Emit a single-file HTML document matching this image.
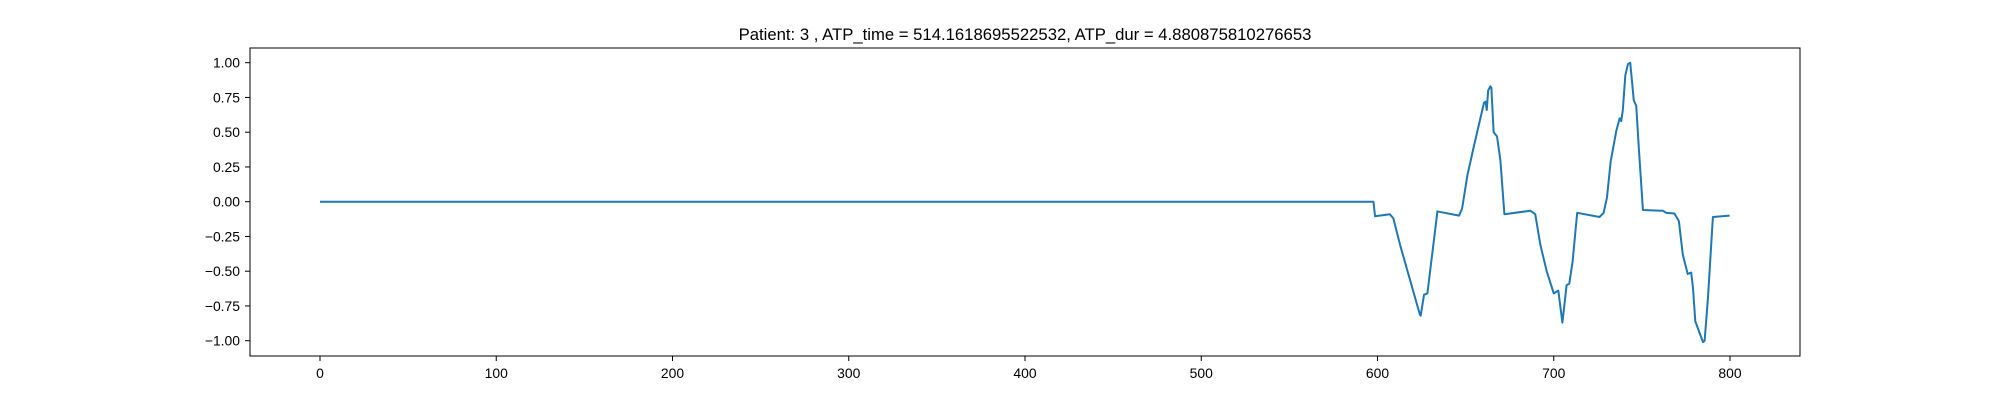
<!DOCTYPE html>
<html><head><meta charset="utf-8"><style>
body{margin:0;background:#fff}
svg{display:block;font-family:"Liberation Sans","DejaVu Sans",sans-serif}
</style></head><body>
<svg id="chart" width="2000" height="400" viewBox="0 0 2000 400" xmlns="http://www.w3.org/2000/svg">
<rect width="2000" height="400" fill="#fff"/>
<text x="1025" y="40" text-anchor="middle" font-size="16.7" fill="#000">Patient: 3 , ATP_time = 514.1618695522532, ATP_dur = 4.880875810276653</text>
<g id="ticks"></g>
<path id="line" fill="none" stroke="#1f77b4" stroke-width="2" stroke-linejoin="round"/>
<rect x="250" y="48" width="1550" height="308" fill="none" stroke="#000" stroke-width="1"/>
</svg>
<script>
const xs=[0,597.7,598.6,607,609,612.8,624,624.5,626.4,628.3,631.2,634,646.3,648,651,654.7,660.4,661.3,662,662.8,664,664.6,665.9,667.8,669.7,672,686.7,689.5,692.4,696,700,701.8,702.6,704.9,707.3,708.8,710.7,713.3,726,728.3,730.2,732.3,735.5,737.4,738.3,739.2,740.6,742.1,743.4,745.4,746.8,748.3,750.6,761.9,763.8,768.5,771,773.2,776,778,779,780.3,784.7,785.6,787.5,790.3,799.8];
const ys=[0,0,-0.105,-0.09,-0.12,-0.31,-0.81,-0.82,-0.67,-0.66,-0.36,-0.07,-0.10,-0.05,0.19,0.40,0.71,0.72,0.66,0.80,0.83,0.82,0.50,0.47,0.30,-0.09,-0.065,-0.09,-0.31,-0.50,-0.66,-0.645,-0.64,-0.87,-0.60,-0.59,-0.43,-0.08,-0.11,-0.08,0.03,0.29,0.51,0.60,0.58,0.66,0.91,0.99,1.00,0.73,0.69,0.38,-0.06,-0.065,-0.08,-0.085,-0.14,-0.38,-0.52,-0.51,-0.62,-0.86,-1.01,-1.0,-0.69,-0.11,-0.10];
const xTicks=[0,100,200,300,400,500,600,700,800];
const yTicks=[1.00,0.75,0.50,0.25,0.00,-0.25,-0.50,-0.75,-1.00];
const sx=v=>320+v*1.7625;
const sy=v=>201.7-v*139;
const NS="http://www.w3.org/2000/svg";
document.getElementById('line').setAttribute('d',xs.map((x,i)=>(i?'L':'M')+sx(x).toFixed(2)+' '+sy(ys[i]).toFixed(2)).join(''));
const g=document.getElementById('ticks');
xTicks.forEach(t=>{
  const l=document.createElementNS(NS,'line');
  l.setAttribute('x1',sx(t));l.setAttribute('x2',sx(t));l.setAttribute('y1',356);l.setAttribute('y2',361);l.setAttribute('stroke','#000');
  
  
  g.appendChild(l);
  const tx=document.createElementNS(NS,'text');
  tx.setAttribute('x',sx(t));tx.setAttribute('y',378);tx.setAttribute('text-anchor','middle');tx.setAttribute('font-size','13.9');
  tx.textContent=t;
  
  
  g.appendChild(tx);
});
yTicks.forEach(t=>{
  const l=document.createElementNS(NS,'line');
  l.setAttribute('x1',245);l.setAttribute('x2',250);l.setAttribute('y1',sy(t));l.setAttribute('y2',sy(t));l.setAttribute('stroke','#000');
  
  
  g.appendChild(l);
  const tx=document.createElementNS(NS,'text');
  tx.setAttribute('x',240);tx.setAttribute('y',sy(t)+5);tx.setAttribute('text-anchor','end');tx.setAttribute('font-size','13.9');
  tx.textContent=(t<0?'\u2212':'')+Math.abs(t).toFixed(2);
  
  
  g.appendChild(tx);
});
</script>
</body></html>
